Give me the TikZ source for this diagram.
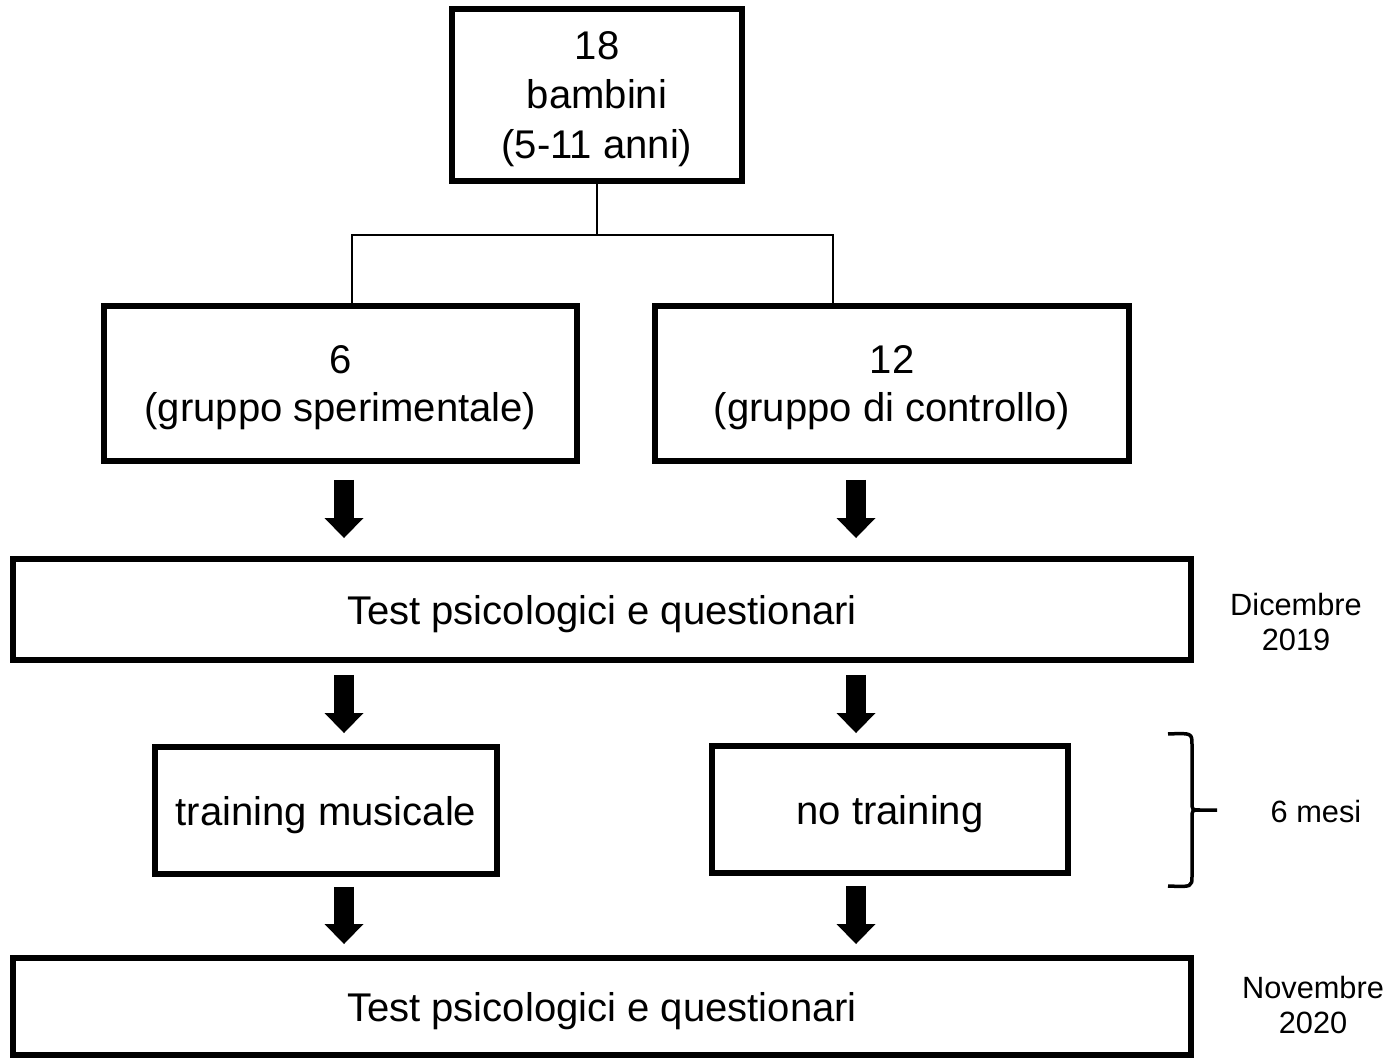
\documentclass[tikz,border=0pt]{standalone}
\usepackage{fontspec}
\setmainfont{Liberation Sans}
\usetikzlibrary{arrows.meta}

\begin{document}
\begin{tikzpicture}[x=0.02cm, y=-0.02cm,
    box/.style={draw, line width=0.12cm, inner sep=0pt, align=center, text depth=0pt,
                font=\fontsize{22.8}{27.5}\selectfont},
    link/.style={line width=0.04cm},
    bigarrow/.style={line width=0.4cm,
                -{Triangle[length=0.4cm, width=0.78cm, line width=0pt]}},
    side/.style={align=center, font=\fontsize{17.5}{20}\selectfont}]
    \useasboundingbox (0,0) rectangle (1393,1060);

    \node [box, minimum width=5.8cm, minimum height=3.44cm, text depth=-0.2cm,
           font=\fontsize{22.8}{28.4}\selectfont] (top) at (597,95)
        {18\\bambini\\(5-11 anni)};
    \node [box, minimum width=9.46cm, minimum height=3.1cm] (sper) at (340.5,383.5)
        {6\\(gruppo sperimentale)};
    \node [box, minimum width=9.48cm, minimum height=3.1cm] (ctrl) at (892,383.5)
        {12\\(gruppo di controllo)};
    \node [box, minimum width=23.56cm, minimum height=2.02cm] (test1) at (602,609.5)
        {Test psicologici e questionari};
    \node [box, minimum width=6.84cm, minimum height=2.54cm] (train) at (326,810.5)
        {training musicale};
    \node [box, minimum width=7.12cm, minimum height=2.54cm] (notrain) at (890,809.5)
        {no training};
    \node [box, minimum width=23.56cm, minimum height=1.94cm] (test2) at (602,1006.5)
        {Test psicologici e questionari};

    % fork under the top box
    \coordinate (fork) at (597,235);
    \coordinate (forkl) at (352,235);
    \coordinate (forkr) at (833,235);
    \draw [link] (top.south) -- (fork);
    \draw [link] (sper.north -| forkl) -- (forkl) -- (forkr) -- (ctrl.north -| forkr);

    % arrow columns
    \coordinate (cl) at (344,0);
    \coordinate (cr) at (856,0);

    \draw [bigarrow, shorten <=0.32cm, shorten >=0.36cm] (sper.south -| cl) -- (test1.north -| cl);
    \draw [bigarrow, shorten <=0.32cm, shorten >=0.36cm] (ctrl.south -| cr) -- (test1.north -| cr);
    \draw [bigarrow, shorten <=0.24cm, shorten >=0.22cm] (test1.south -| cl) -- (train.north -| cl);
    \draw [bigarrow, shorten <=0.24cm, shorten >=0.2cm] (test1.south -| cr) -- (notrain.north -| cr);
    \draw [bigarrow, shorten <=0.2cm, shorten >=0.22cm] (train.south -| cl) -- (test2.north -| cl);
    \draw [bigarrow, shorten <=0.2cm, shorten >=0.22cm] (notrain.south -| cr) -- (test2.north -| cr);

    % brace
    \draw [line width=0.07cm]
        (1168,734) .. controls (1192,733) .. (1192,745) -- (1192,802)
        .. controls (1192,810) .. (1200,810) -- (1217,810);
    \draw [line width=0.07cm]
        (1200,810) .. controls (1192,810) .. (1192,818) -- (1192,876)
        .. controls (1192,887) .. (1168,886);

    \node [side] (dic) at (1296,622) {Dicembre\\2019};
    \node [side] (mesi) at (1316,812) {6 mesi};
    \node [side] (nov) at (1313,1005) {Novembre\\2020};
\end{tikzpicture}
\end{document}
